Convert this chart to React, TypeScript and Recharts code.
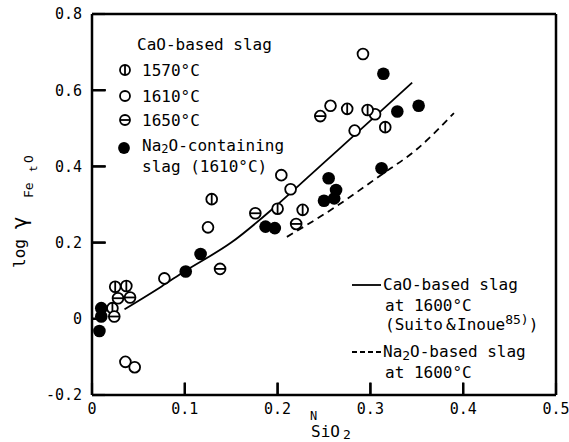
import React from 'react';
import { ScatterChart, Scatter, XAxis, YAxis, ReferenceLine } from 'recharts';

const WIDTH = 569;
const HEIGHT = 442;
const FONT = '"DejaVu Sans Mono", "Liberation Mono", monospace';

// log γFetO against N_SiO2
const cao1570 = [
  { x: 0.025, y: 0.084 }, { x: 0.037, y: 0.086 }, { x: 0.022, y: 0.028 },
  { x: 0.129, y: 0.314 }, { x: 0.2, y: 0.289 }, { x: 0.227, y: 0.286 },
  { x: 0.275, y: 0.551 }, { x: 0.297, y: 0.548 }, { x: 0.316, y: 0.503 },
];
const cao1610 = [
  { x: 0.036, y: -0.113 }, { x: 0.046, y: -0.127 }, { x: 0.078, y: 0.106 },
  { x: 0.125, y: 0.24 }, { x: 0.204, y: 0.377 }, { x: 0.214, y: 0.34 },
  { x: 0.257, y: 0.559 }, { x: 0.283, y: 0.494 }, { x: 0.292, y: 0.695 },
  { x: 0.305, y: 0.537 },
];
const cao1650 = [
  { x: 0.028, y: 0.054 }, { x: 0.041, y: 0.056 }, { x: 0.024, y: 0.006 },
  { x: 0.138, y: 0.131 }, { x: 0.176, y: 0.277 }, { x: 0.22, y: 0.249 },
  { x: 0.246, y: 0.532 },
];
const na2oSlag = [
  { x: 0.008, y: -0.032 }, { x: 0.01, y: 0.028 }, { x: 0.01, y: 0.006 },
  { x: 0.101, y: 0.124 }, { x: 0.117, y: 0.17 }, { x: 0.187, y: 0.242 },
  { x: 0.197, y: 0.238 }, { x: 0.255, y: 0.369 }, { x: 0.263, y: 0.338 },
  { x: 0.25, y: 0.31 }, { x: 0.261, y: 0.316 }, { x: 0.314, y: 0.643 },
  { x: 0.329, y: 0.544 }, { x: 0.352, y: 0.559 }, { x: 0.312, y: 0.395 },
];

// CaO-based slag at 1600°C (Suito & Inoue)
const caoCurve = [
  { x: 0.035, y: 0.025 }, { x: 0.075, y: 0.085 }, { x: 0.1, y: 0.125 },
  { x: 0.15, y: 0.2 }, { x: 0.2, y: 0.3 }, { x: 0.25, y: 0.41 },
  { x: 0.3, y: 0.52 }, { x: 0.345, y: 0.62 },
];
// Na2O-based slag at 1600°C
const na2oCurve = [
  { x: 0.21, y: 0.215 }, { x: 0.26, y: 0.29 }, { x: 0.31, y: 0.375 },
  { x: 0.35, y: 0.445 }, { x: 0.39, y: 0.54 },
];

const xTicks = [0, 0.1, 0.2, 0.3, 0.4, 0.5];
const yTicks = [-0.2, 0, 0.2, 0.4, 0.6, 0.8];
const X_MIN = 0;
const Y_MIN = -0.2;
// inward tick lengths, in axis units
const X_TICK_LEN = 0.033;
const Y_TICK_LEN = 0.015;

const fmt = (v: number) => (v === 0 ? '0' : v.toFixed(1));

type Kind = '1570' | '1610' | '1650' | 'na2o';

function Marker({ cx, cy, kind, r = 5.4 }: { cx: number; cy: number; kind: Kind; r?: number }) {
  if (kind === 'na2o') return <circle cx={cx} cy={cy} r={r + 0.9} fill="#000" />;
  return (
    <g>
      <circle cx={cx} cy={cy} r={r} fill="#fff" stroke="#000" strokeWidth={1.8} />
      {kind === '1570' && (
        <line x1={cx} y1={cy - r} x2={cx} y2={cy + r} stroke="#000" strokeWidth={1.8} />
      )}
      {kind === '1650' && (
        <line x1={cx - r} y1={cy} x2={cx + r} y2={cy} stroke="#000" strokeWidth={1.8} />
      )}
    </g>
  );
}

const shapeFor = (kind: Kind) => (p: any) => <Marker cx={p.cx} cy={p.cy} kind={kind} />;
const noDot = () => <g />;

const tickStyle = { fill: '#000', fontSize: 15, fontFamily: FONT };

// legend blocks and axis titles, laid under the chart's svg
function Labels() {
  const t = { fontFamily: FONT, fill: '#000' };
  return (
    <svg
      width={WIDTH}
      height={HEIGHT}
      style={{ position: 'absolute', left: 0, top: 0, pointerEvents: 'none' }}
    >
      <text {...t} x={137} y={50} fontSize={16}>CaO-based slag</text>
      <Marker cx={125} cy={70} kind="1570" r={5} />
      <text {...t} x={142} y={76} fontSize={16}>1570°C</text>
      <Marker cx={125} cy={96} kind="1610" r={5} />
      <text {...t} x={142} y={102} fontSize={16}>1610°C</text>
      <Marker cx={125} cy={120} kind="1650" r={5} />
      <text {...t} x={142} y={126} fontSize={16}>1650°C</text>
      <Marker cx={124} cy={148} kind="na2o" r={5} />
      <text {...t} x={142} y={151} fontSize={16}>
        Na<tspan dy={2} fontSize={12}>2</tspan><tspan dy={-2}>O-containing</tspan>
      </text>
      <text {...t} x={142} y={172} fontSize={16}>slag (1610°C)</text>

      <line x1={352} y1={285} x2={381} y2={285} stroke="#000" strokeWidth={1.8} />
      <text {...t} x={383} y={290} fontSize={16}>CaO-based slag</text>
      <text {...t} x={385} y={311} fontSize={16}>at 1600°C</text>
      <text {...t} x={385} y={330} fontSize={16}>
        (Suito<tspan x={446}>&amp;</tspan><tspan x={457}>Inoue</tspan>
        <tspan dy={-6} fontSize={13}>85)</tspan><tspan dy={6}>)</tspan>
      </text>
      <line x1={352} y1={352} x2={383} y2={352} stroke="#000" strokeWidth={1.8} strokeDasharray="5 3" />
      <text {...t} x={383} y={357} fontSize={16}>
        Na<tspan dy={3} fontSize={13}>2</tspan><tspan dy={-3}>O-based slag</tspan>
      </text>
      <text {...t} x={385} y={378} fontSize={16}>at 1600°C</text>

      <text {...t} x={310} y={420} fontSize={12}>N</text>
      <text {...t} x={311} y={437} fontSize={16}>SiO</text>
      <text {...t} x={343} y={439} fontSize={13}>2</text>

      <g transform="rotate(-90)">
        <text {...t} x={-268} y={25} fontSize={16}>log</text>
        <text {...t} x={-229} y={27} fontSize={21}>γ</text>
        <text {...t} x={-198} y={33} fontSize={13}>Fe</text>
        <text {...t} x={-172} y={37} fontSize={11}>t</text>
        <text {...t} x={-163} y={33} fontSize={13}>O</text>
      </g>
    </svg>
  );
}

export default function App() {
  return (
    <div style={{ position: 'absolute', left: 0, top: 0, width: WIDTH, height: HEIGHT, background: '#fff' }}>
      <Labels />
      <ScatterChart width={WIDTH} height={HEIGHT} margin={{ top: 14, right: 13, bottom: 17, left: 32 }}>
        {/* negative tick sizes turn the tick marks into the plot */}
        <XAxis
          type="number"
          dataKey="x"
          domain={[0, 0.5]}
          ticks={xTicks}
          height={30}
          stroke="#000"
          strokeWidth={2.5}
          tickSize={-12}
          tickMargin={20}
          tickLine={{ stroke: '#000', strokeWidth: 2.2 }}
          tick={tickStyle}
          tickFormatter={fmt}
        />
        <YAxis
          type="number"
          dataKey="y"
          domain={[-0.2, 0.8]}
          ticks={yTicks}
          width={60}
          stroke="#000"
          strokeWidth={2.5}
          tickSize={-13}
          tickMargin={23}
          tickLine={{ stroke: '#000', strokeWidth: 2.2 }}
          tick={tickStyle}
          tickFormatter={fmt}
        />
        <ReferenceLine y={0.8} stroke="#000" strokeWidth={2.5} />
        <ReferenceLine x={0.5} stroke="#000" strokeWidth={2.5} />
        {/* extra inward tick marks on the same scales */}
        {xTicks.slice(1, -1).map((v) => (
          <ReferenceLine
            key={`xt${v}`}
            segment={[{ x: v, y: Y_MIN }, { x: v, y: Y_MIN + X_TICK_LEN }]}
            stroke="#000"
            strokeWidth={2.2}
          />
        ))}
        {yTicks.slice(1, -1).map((v) => (
          <ReferenceLine
            key={`yt${v}`}
            segment={[{ x: X_MIN, y: v }, { x: X_MIN + Y_TICK_LEN, y: v }]}
            stroke="#000"
            strokeWidth={2.2}
          />
        ))}
        <Scatter
          data={caoCurve}
          line={{ stroke: '#000', strokeWidth: 1.8 }}
          lineJointType="monotoneX"
          shape={noDot}
          isAnimationActive={false}
        />
        <Scatter
          data={na2oCurve}
          line={{ stroke: '#000', strokeWidth: 1.8, strokeDasharray: '7 5' }}
          lineJointType="monotoneX"
          shape={noDot}
          isAnimationActive={false}
        />
        <Scatter data={cao1610} shape={shapeFor('1610')} isAnimationActive={false} />
        <Scatter data={cao1570} shape={shapeFor('1570')} isAnimationActive={false} />
        <Scatter data={cao1650} shape={shapeFor('1650')} isAnimationActive={false} />
        <Scatter data={na2oSlag} shape={shapeFor('na2o')} isAnimationActive={false} />
      </ScatterChart>
    </div>
  );
}
